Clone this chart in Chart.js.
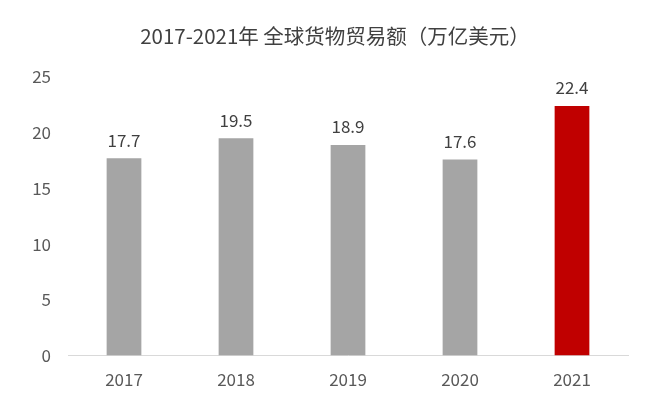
<!DOCTYPE html>
<html>
<head>
<meta charset="utf-8">
<script src="https://cdn.jsdelivr.net/npm/chart.js@4"></script>
<style>
  body { margin: 0; background: #fff; }
  #wrap { width: 660px; height: 412px; }
</style>
</head>
<body>
<div id="wrap"><canvas id="myChart"></canvas></div>
<script>
var years = ['2017', '2018', '2019', '2020', '2021'];
var tradeValues = [17.7, 19.5, 18.9, 17.6, 22.4];
var yTicks = [0, 5, 10, 15, 20, 25];
var barColors = ['#a5a5a5', '#a5a5a5', '#a5a5a5', '#a5a5a5', '#c00000'];
var chartTitle = '2017-2021年 全球货物贸易额（万亿美元）';

var fontFamily = '"Noto Sans CJK SC", "Noto Sans", sans-serif';

// title drawn by hand so it sits centred on the page, not the plot
var titleText = {
  id: 'titleText',
  afterDraw: function (chart) {
    var c = chart.ctx;
    c.save();
    c.font = '20.5px ' + fontFamily;
    c.fillStyle = '#404040';
    c.textAlign = 'center';
    c.textBaseline = 'middle';
    c.fillText(chartTitle, 335, 36);
    c.restore();
  }
};

// values above the bars
var valueLabels = {
  id: 'valueLabels',
  afterDatasetsDraw: function (chart) {
    var c = chart.ctx;
    var meta = chart.getDatasetMeta(0);
    c.save();
    c.font = '17px ' + fontFamily;
    c.fillStyle = '#404040';
    c.textAlign = 'center';
    c.textBaseline = 'middle';
    meta.data.forEach(function (bar, i) {
      c.fillText(tradeValues[i].toFixed(1), bar.x, bar.y - 18);
    });
    c.restore();
  }
};

var ctx = document.getElementById('myChart').getContext('2d');
var myChart = new Chart(ctx, {
  type: 'bar',
  data: {
    labels: years,
    datasets: [{
      data: tradeValues,
      backgroundColor: barColors,
      borderWidth: 0,
      barPercentage: 0.31,
      categoryPercentage: 1
    }]
  },
  options: {
    responsive: true,
    maintainAspectRatio: false,
    animation: false,
    layout: { padding: { left: 0, right: 32, top: 77, bottom: 8 } },
    plugins: {
      legend: { display: false },
      tooltip: { enabled: false },
      title: { display: false }
    },
    scales: {
      x: {
        grid: { display: false, drawTicks: false },
        border: { display: true, color: '#d9d9d9', width: 1 },
        ticks: {
          color: '#595959',
          font: { family: fontFamily, size: 17 },
          padding: 14
        }
      },
      y: {
        min: 0,
        max: 25,
        afterFit: function (scale) { scale.width = 68; },
        afterBuildTicks: function (scale) {
          scale.ticks = yTicks.map(function (v) { return { value: v }; });
        },
        grid: { display: false, drawTicks: false },
        border: { display: false },
        ticks: {
          color: '#595959',
          font: { family: fontFamily, size: 17 },
          padding: 17
        }
      }
    }
  },
  plugins: [valueLabels, titleText]
});
</script>
</body>
</html>
